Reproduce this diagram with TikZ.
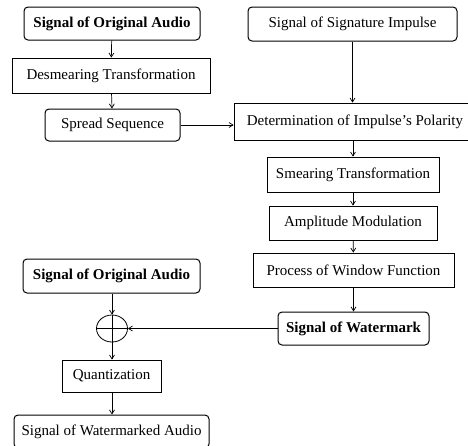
\documentclass[tikz,border=0pt]{standalone}
\usepackage{fontspec}
\setmainfont{Liberation Serif}
\usetikzlibrary{arrows.meta,shapes.geometric}
\begin{document}
\begin{tikzpicture}[x=1pt,y=-1pt,
  font=\fontsize{15}{18}\selectfont,
  plainbox/.style={draw, line width=0.8pt, inner sep=0pt, minimum width=#1, minimum height=34pt},
  roundbox/.style={draw, line width=1pt, rounded corners=4pt, inner sep=0pt, minimum width=#1, minimum height=33pt},
  conn/.style={line width=0.7pt, -{Straight Barb[length=4pt,width=5pt]}}
]
\useasboundingbox (0,0) rectangle (468,445);
\node[roundbox=176pt, font=\fontsize{15}{18}\selectfont\bfseries] (oa1) at (112,23.5) {Signal of Original Audio};
\node[plainbox=198pt, minimum height=35pt] (desm) at (111,75.5) {Desmearing Transformation};
\node[roundbox=135pt, minimum height=32pt] (spread) at (112.5,125) {Spread Sequence};
\node[roundbox=209pt, minimum height=34pt] (imp) at (352.5,24) {Signal of Signature Impulse};
\node[plainbox=242pt, minimum height=37pt] (det) at (355,121.5) {Determination of Impulse's Polarity};
\node[plainbox=172pt, minimum height=35pt] (smear) at (353,174.5) {Smearing Transformation};
\node[plainbox=168pt] (ampl) at (353,223) {Amplitude Modulation};
\node[plainbox=201pt] (win) at (353.5,270) {Process of Window Function};
\node[roundbox=151pt, font=\fontsize{15}{18}\selectfont\bfseries] (wm) at (353.5,328.5) {Signal of Watermark};
\node[roundbox=177pt, minimum height=34pt, font=\fontsize{15}{18}\selectfont\bfseries] (oa2) at (111.5,276) {Signal of Original Audio};
\node[draw, ellipse, line width=0.8pt, inner sep=0pt, minimum width=31pt, minimum height=27pt] (sum) at (112,328.5) {};
\draw[line width=0.7pt] (sum.west) -- (sum.east) (sum.north) -- (sum.south);
\node[plainbox=99pt, minimum height=32pt] (quant) at (111.5,376) {Quantization};
\node[roundbox=195pt] (wma) at (111.5,431.5) {Signal of Watermarked Audio};

\draw[conn] (oa1) -- (desm);
\draw[conn] (desm) -- (spread);
\draw[conn] (spread.east) -- (spread.east -| det.west);
\draw[conn] (imp.south) -- (imp.south |- det.north);
\draw[conn] (det.south -| smear) -- (smear.north);
\draw[conn] (smear) -- (ampl);
\draw[conn] (ampl) -- (win);
\draw[conn] (win.south -| wm) -- (wm.north);
\draw[conn] (wm.west) -- (sum.east);
\draw[conn] (oa2.south -| sum) -- (sum.north);
\draw[conn] (sum.south) -- (quant.north -| sum);
\draw[conn] (quant.south -| sum) -- (wma.north -| sum);
\end{tikzpicture}
\end{document}
